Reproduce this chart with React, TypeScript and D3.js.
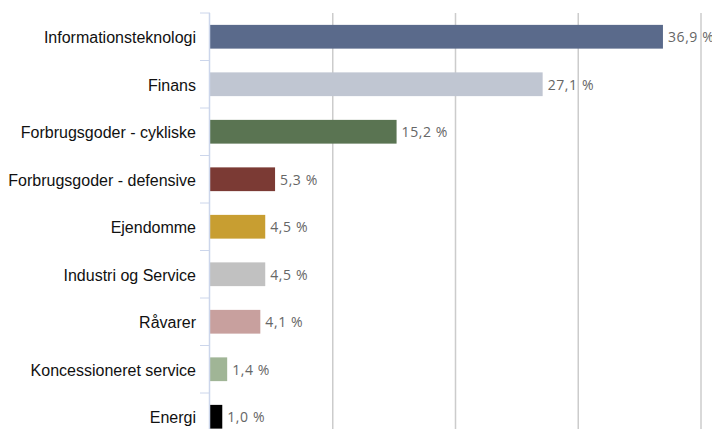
import React from "react";
import * as d3 from "d3";

const categories = [
  "Informationsteknologi",
  "Finans",
  "Forbrugsgoder - cykliske",
  "Forbrugsgoder - defensive",
  "Ejendomme",
  "Industri og Service",
  "Råvarer",
  "Koncessioneret service",
  "Energi",
];
const values = [36.9, 27.1, 15.2, 5.3, 4.5, 4.5, 4.1, 1.4, 1.0];
const colors = [
  "#5a6a8b",
  "#c0c6d2",
  "#5a7452",
  "#7b3a34",
  "#c89e31",
  "#c1c1c1",
  "#c8a09e",
  "#a0b596",
  "#000000",
];
const xTicks = [0, 10, 20, 30, 40];

export default function App() {
  const W = 712, H = 429;
  const left = 210, right = 701, top = 13, bottom = 440.5;
  const x = d3.scaleLinear().domain([0, 40]).range([left, right]);
  const y = d3.scaleBand().domain(categories).range([top, bottom]).paddingInner(0.5).paddingOuter(0.25);
  const band = d3.scaleBand().domain(categories).range([top, bottom]);
  const fmt = (v: number) => v.toFixed(1).replace(".", ",") + " %";
  return (
    <svg width={W} height={H} style={{ position: "absolute", left: 0, top: 0 }}>
      {xTicks.slice(1).map((t) => (
        <line key={t} x1={x(t)} x2={x(t)} y1={top} y2={H} stroke="#cccccc" strokeWidth={1.5} />
      ))}
      {categories.map((c, i) => (
        <rect key={c} x={x(0)} y={y(c)!} width={x(values[i]) - x(0)} height={y.bandwidth()} fill={colors[i]} />
      ))}
      <line x1={left - 0.5} x2={left - 0.5} y1={top} y2={H} stroke="#ccd6eb" strokeWidth={1.5} />
      {categories.map((c) => (
        <line key={c} x1={left - 10} x2={left} y1={band(c)!} y2={band(c)!} stroke="#ccd6eb" strokeWidth={1} />
      ))}
      {categories.map((c) => (
        <text key={c} x={left - 14} y={band(c)! + band.bandwidth() / 2} dy="0.42em" textAnchor="end"
          fontFamily="Liberation Sans, Arial, sans-serif" fontSize={16} fill="#111">{c}</text>
      ))}
      {categories.map((c, i) => (
        <text key={c} x={x(values[i]) + 5} y={y(c)! + y.bandwidth() / 2} dy="0.38em"
          fontFamily="Open Sans, sans-serif" fontSize={14} letterSpacing={0.6} fill="#666">{fmt(values[i])}</text>
      ))}
    </svg>
  );
}
